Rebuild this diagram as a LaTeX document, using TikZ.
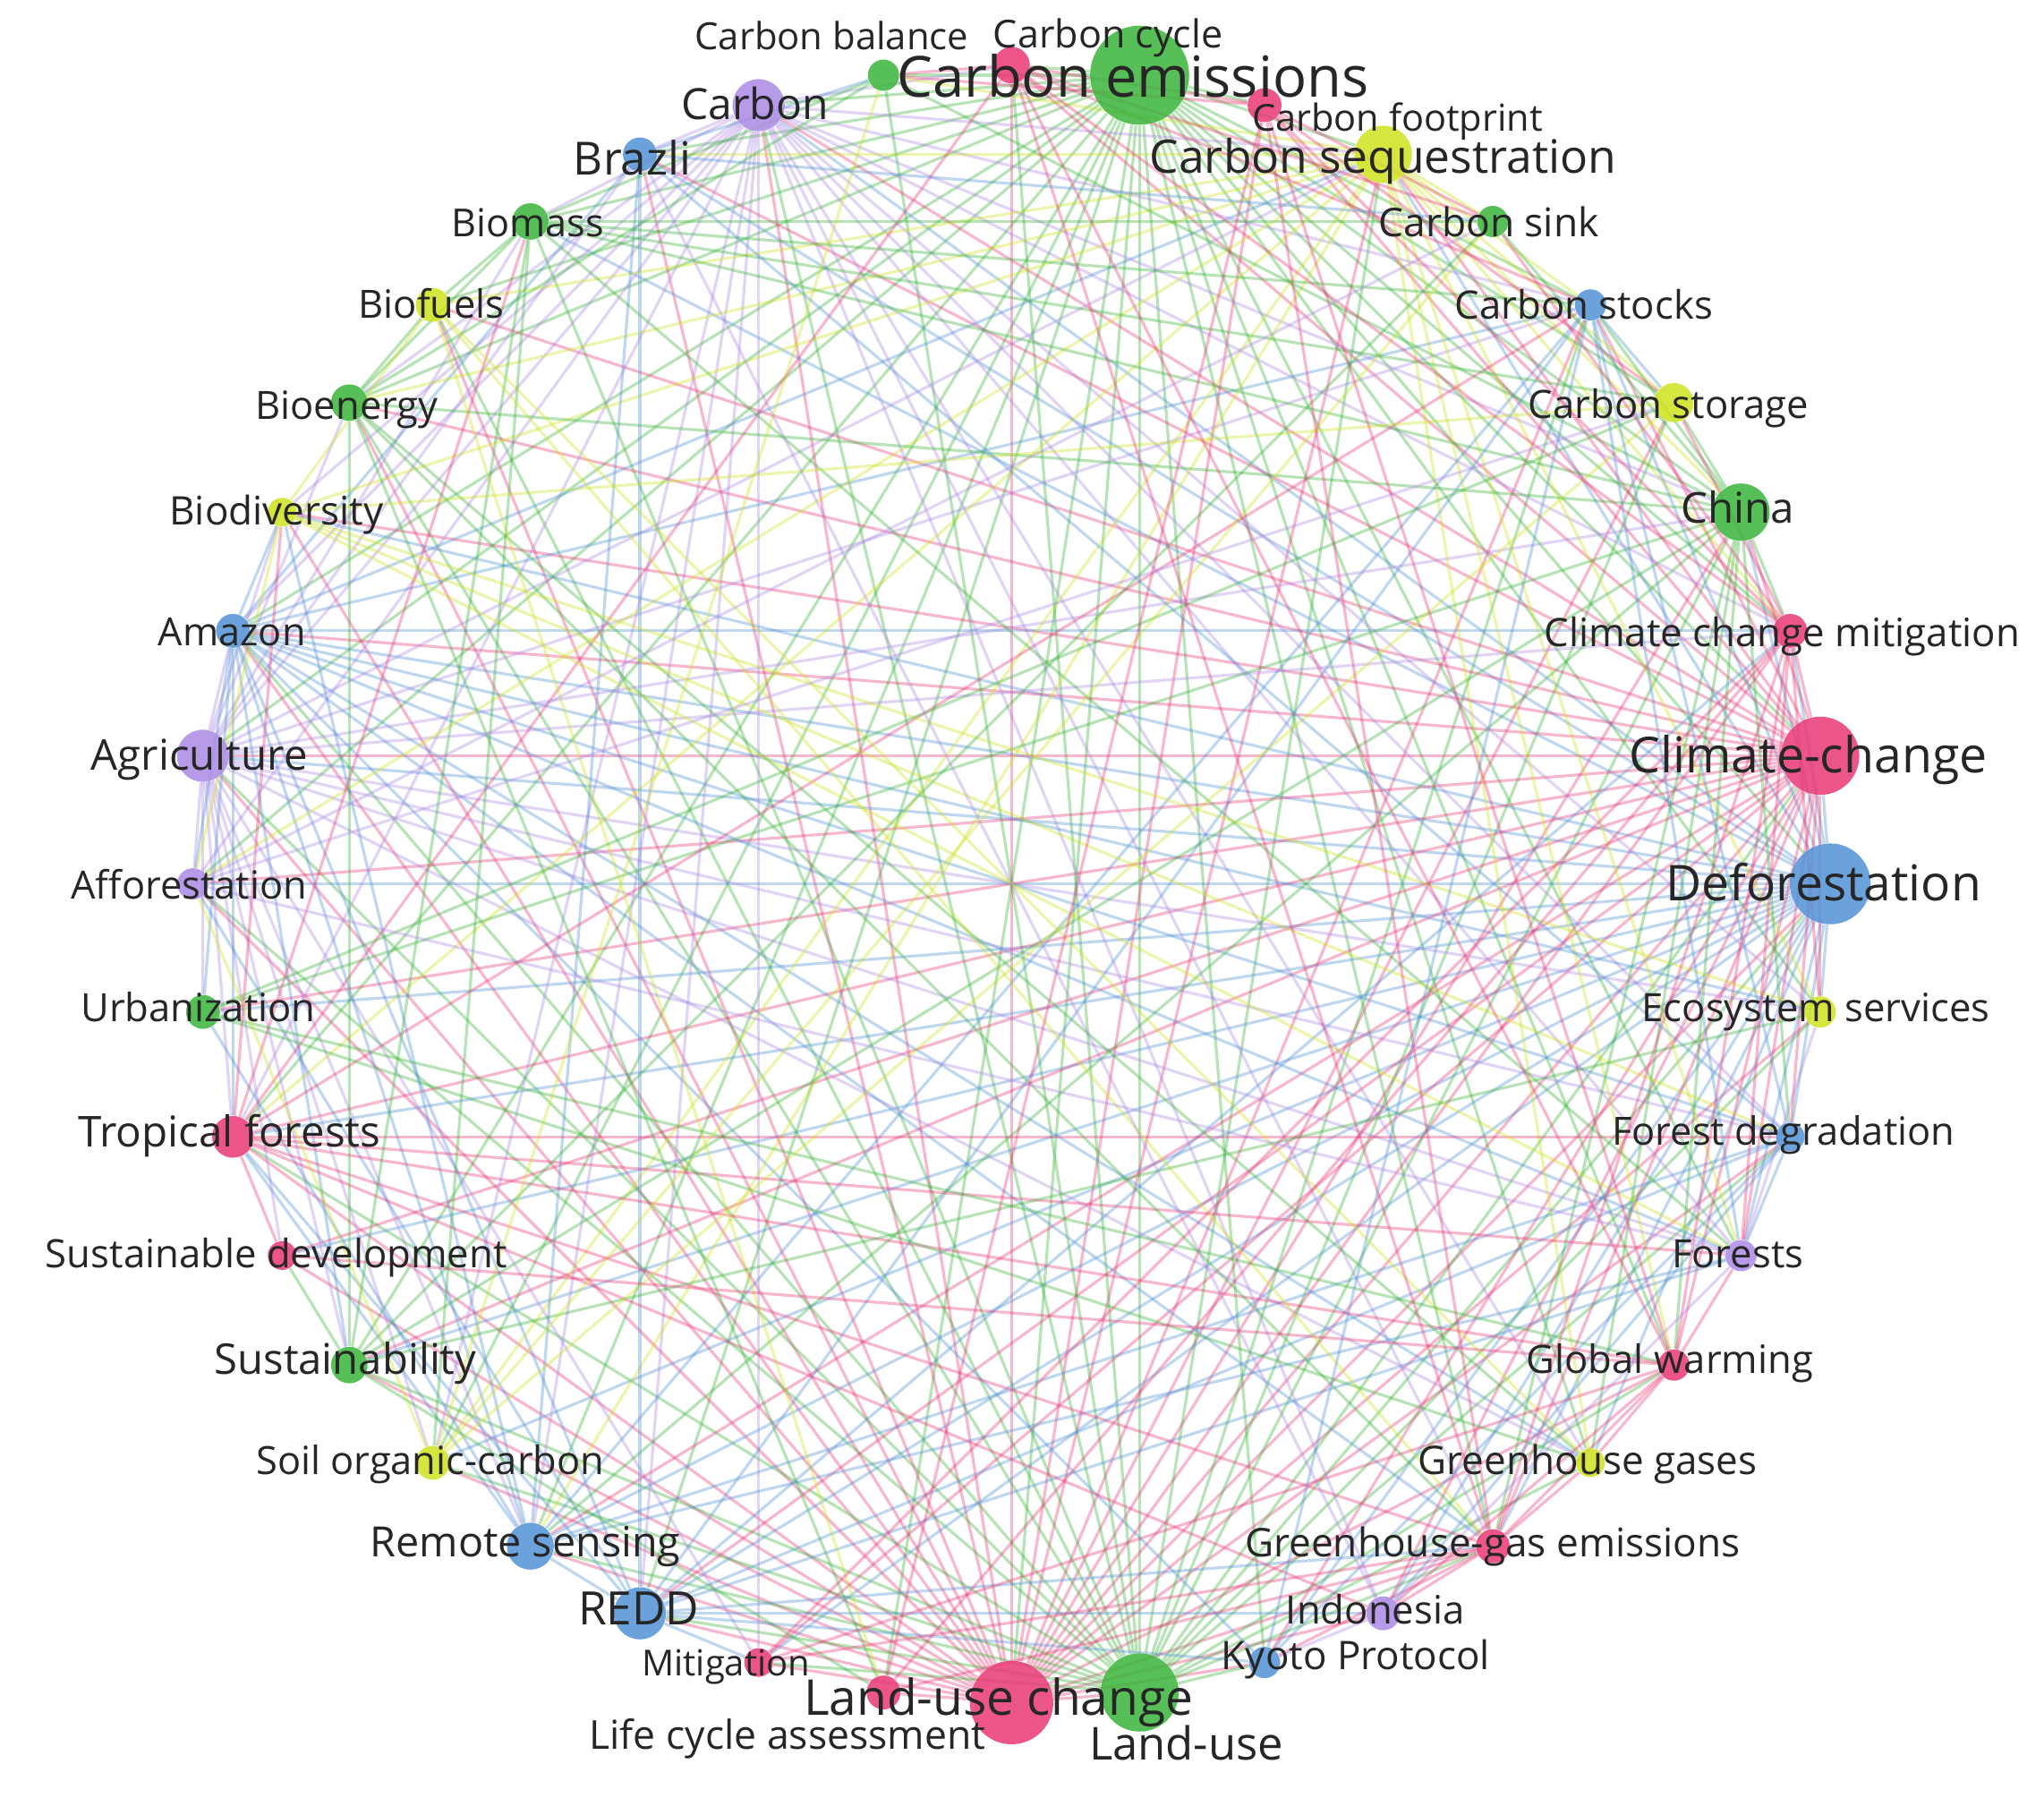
\documentclass[tikz,border=0pt]{standalone}
\usepackage{fontspec}
\setmainfont{Open Sans}
\usepackage{graphicx}
\definecolor{cgreen}{RGB}{58,180,58}
\definecolor{cpink}{RGB}{233,56,118}
\definecolor{cblue}{RGB}{82,146,214}
\definecolor{cyellow}{RGB}{206,226,30}
\definecolor{cpurple}{RGB}{172,138,228}
\pgfdeclarelayer{bg}
\pgfdeclarelayer{edges}
\pgfsetlayers{bg,edges,main}
\begin{document}
\begin{tikzpicture}[x=0.5pt,y=0.5pt,
  kw/.style={circle, inner sep=0pt, draw=none, fill opacity=0.85},
  lbl/.style={inner sep=0pt, text=black!85},
  link/.style={line width=1.1pt, draw opacity=0.36},
  eg/.style={link, draw=cgreen},
  ep/.style={link, draw=cpink},
  eb/.style={link, draw=cblue},
  ey/.style={link, draw=cyellow},
  eu/.style={link, draw=cpurple}]
\begin{pgfonlayer}{bg}
\fill[white] (0,0) rectangle (1568,1379);
\end{pgfonlayer}
\useasboundingbox (0,0) rectangle (1568,1379);
% keyword circles
\foreach \i/\c/\r in {0/cpink/14,1/cgreen/38,2/cpink/13,3/cyellow/22,4/cgreen/12,
  5/cblue/12,6/cyellow/15,7/cgreen/22,8/cpink/13,9/cpink/30,10/cblue/31,
  11/cyellow/12,12/cblue/11,13/cpurple/12,14/cpink/12,15/cyellow/11,16/cpink/13,
  17/cpurple/13,18/cblue/12,19/cgreen/30,20/cpink/32,21/cpink/13,22/cpink/11,
  23/cblue/20,24/cblue/18,25/cyellow/13,26/cgreen/14,27/cpink/11,28/cpink/16,
  29/cgreen/13,30/cpurple/12,31/cpurple/20,32/cblue/13,33/cyellow/11,34/cgreen/14,
  35/cyellow/13,36/cgreen/14,37/cblue/13,38/cpurple/20,39/cgreen/12}{
  \pgfmathsetmacro\ang{90-9*\i}
  \node[kw, fill=\c, minimum size=\r pt] (n\i) at ({776+628*cos(\ang)},{701+628*sin(\ang)}) {};
}
% connectors
\begin{pgfonlayer}{edges}
\foreach \a/\s/\lst in {
  1/eg/{0,2,3,5,6,7,8,9,10,11,13,14,15,16,18,19,20,21,23,24,25,26,28,30,31,32,34,35,36,37,38,39},
  20/ep/{0,2,3,5,6,7,8,9,10,11,12,14,16,17,18,19,21,22,23,24,25,26,27,28,30,31,32,33,34,35,37,38},
  19/eg/{0,3,5,6,7,9,10,11,12,14,15,16,18,22,23,24,25,26,28,30,31,32,34,35,36,38,39},
  10/eb/{3,5,7,8,9,11,12,13,15,16,17,18,22,23,24,25,26,27,28,29,30,31,32,33,36,37,38},
  9/ep/{0,2,3,5,7,8,11,12,13,14,16,17,18,22,23,24,26,27,28,29,30,31,32,33,34,35,37,38},
  31/eu/{3,5,7,8,11,12,13,15,22,24,25,26,27,28,29,30,32,33,34,36,37,38},
  38/eu/{0,3,5,7,8,11,12,13,15,16,17,22,23,24,25,28,30,32,33,34,36,37},
  32/eb/{3,5,8,11,12,13,15,16,18,23,24,26,28,29,30,33,37},
  3/ey/{4,5,6,7,8,11,13,14,15,24,25,28,30,33,34,35,37,39},
  7/eg/{4,5,6,8,12,14,15,16,24,26,29,34,36,39},
  23/eb/{5,8,12,13,16,17,18,22,24,28,30,37},
  24/eb/{5,12,13,28,29,33,37},
  28/ep/{0,5,12,13,14,16,17,27,33,36},
  36/eg/{4,5,6,13,25,26,34,35,39},
  34/eg/{15,16,21,26,35,39},
  35/ey/{15,16,21,33},
  33/ey/{6,11,12,13,30},
  29/eg/{6,14,15},
  26/eg/{4,11,21,27},
  25/ey/{4,6,30,39},
  14/ep/{0,2,8,13,15,16,17,22,27},
  16/ep/{0,2,8,15,17,18,21,22},
  8/ep/{0,2,4,6,11,13,21,22},
  0/ep/{2,4,5,39},
  2/ep/{4,6,21,39},
  5/eb/{6,12,13,18},
  12/eb/{13,17,18,37},
  13/eu/{11,17,30},
  17/eu/{18,37},
  37/eb/{4,39},
  30/eu/{4,6}}{
  \foreach \b in \lst {\draw[\s] (n\a) -- (n\b);}
}
\end{pgfonlayer}
% labels
\foreach \i/\t/\x/\y/\w in {
  0/Carbon cycle/850/26/176,
  1/Carbon emissions/869/60/362,
  2/Carbon footprint/1072/90/223,
  3/Carbon sequestration/1061/121/358,
  4/Carbon sink/1142/171/169,
  5/Carbon stocks/1215/234/198,
  6/Carbon storage/1280/310/215,
  7/China/1333/390/87,
  8/Climate change mitigation/1367/485/365,
  9/Climate-change/1387/580/275,
  10/Deforestation/1399/678/242,
  11/Ecosystem services/1393/773/267,
  12/Forest degradation/1368/868/263,
  13/Forests/1333/962/101,
  14/Global warming/1281/1043/220,
  15/Greenhouse gases/1218/1120/260,
  16/Greenhouse-gas emissions/1145/1183/380,
  17/Indonesia/1055/1235/137,
  18/Kyoto Protocol/1040/1270/206,
  19/Land-use/910/1338/149,
  20/Land-use change/766/1303/299,
  21/Life cycle assessment/604/1331/304,
  22/Mitigation/557/1276/129,
  23/REDD/490/1235/93,
  24/Remote sensing/403/1183/238,
  25/Soil organic-carbon/330/1120/267,
  26/Sustainability/265/1043/201,
  27/Sustainable development/212/962/354,
  28/Tropical forests/176/868/232,
  29/Urbanization/152/773/180,
  30/Afforestation/145/679/181,
  31/Agriculture/153/579/166,
  32/Amazon/178/485/113,
  33/Biodiversity/212/392/164,
  34/Bioenergy/266/311/140,
  35/Biofuels/331/233/112,
  36/Biomass/405/171/117,
  37/Brazli/485/122/90,
  38/Carbon/579/80/113,
  39/Carbon balance/638/28/210}{
  \pgfmathsetlengthmacro\lw{\w*0.5pt}
  \node[lbl] (l\i) at (\x,{1376-\y}) {\resizebox{\lw}{!}{\vphantom{Ag}\t}};
}
\end{tikzpicture}
\end{document}
